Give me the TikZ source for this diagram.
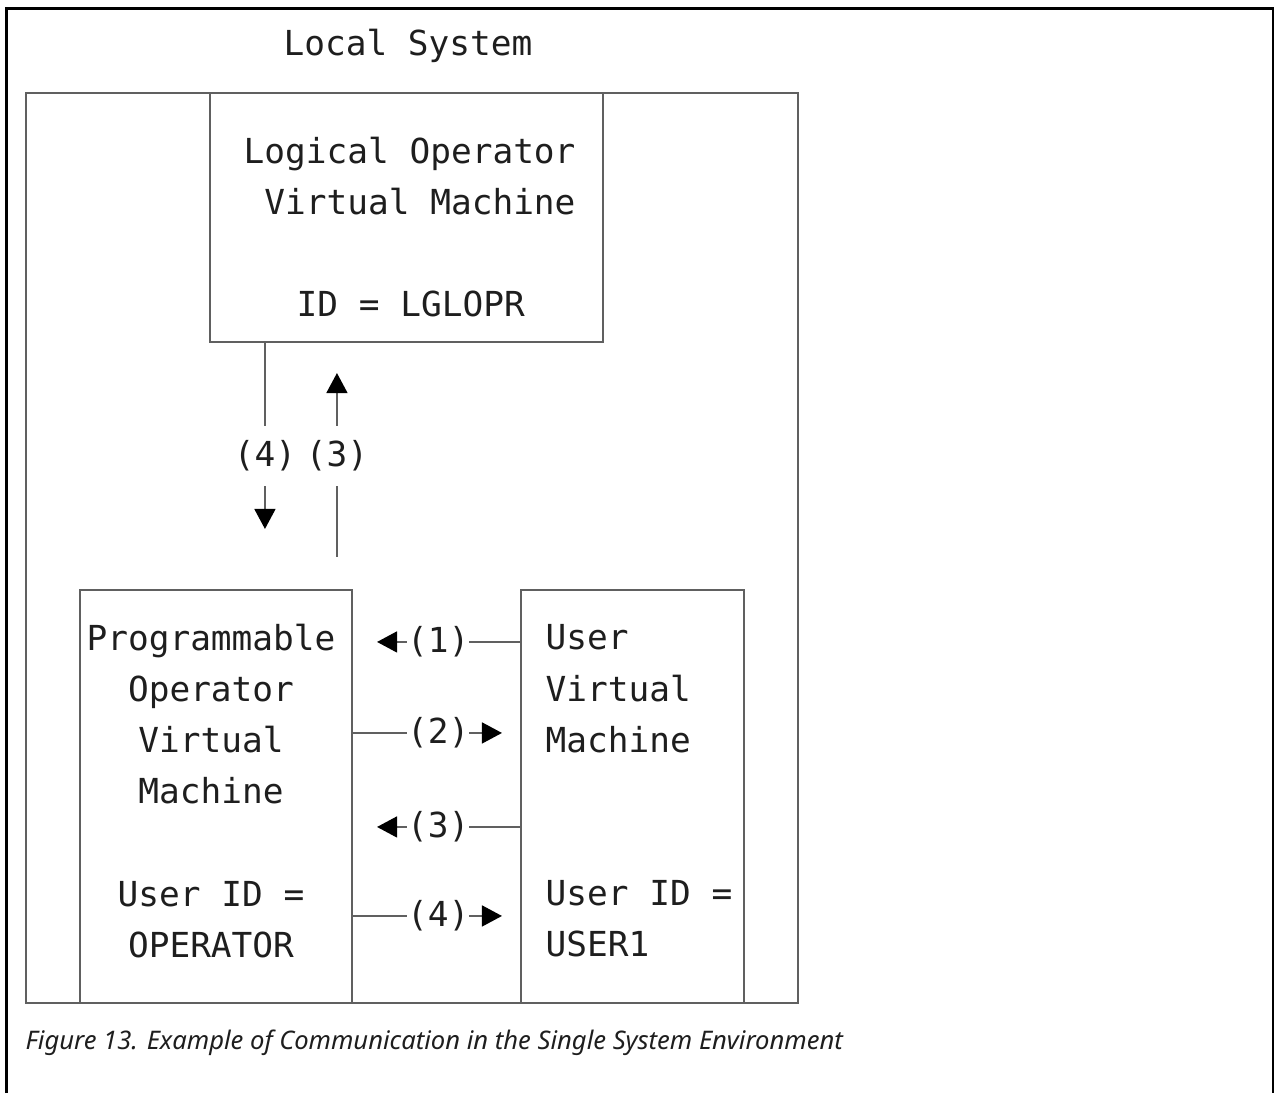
\documentclass[tikz,border=0pt]{standalone}
\usepackage{fontspec}
\setmonofont{DejaVu Sans Mono}
\newfontfamily\captionfont{Noto Sans}
\usetikzlibrary{arrows.meta}
\definecolor{boxgray}{RGB}{96,96,96}
\definecolor{textgray}{RGB}{30,30,30}
\tikzset{
  box/.style={draw=boxgray, line width=0.6pt, inner sep=0pt},
  boxtext/.style={font=\ttfamily\fontsize{9.8}{14.55}\selectfont, text=textgray, inner sep=0pt},
  msg/.style={draw=boxgray, line width=0.45pt, -{Triangle[length=0.2cm, width=0.21cm, color=black]}},
  msgtag/.style={boxtext, fill=white, inner sep=0pt, minimum height=0.6cm},
}
\begin{document}
\begin{tikzpicture}
            \useasboundingbox (0, 0) rectangle (12.74, 10.93);
            \draw[black, line width=0.85pt] (0.065, 0) -- (0.065, 10.845) -- (12.73, 10.845) -- (12.73, 0);

            % Local System
            \node[box, minimum width=7.72cm, minimum height=9.10cm] (local) at (4.12, 5.45) {};
            \node[boxtext] (local-title) at (4.08, 10.47) {Local System};

            % Logical operator
            \node[box, minimum width=3.93cm, minimum height=2.49cm] (lglopr) at (4.065, 8.755) {};
            \node[boxtext, align=left, anchor=west] (lglopr-text) at (2.43, 8.66) {Logical Operator\\\ Virtual Machine\\[14.55pt]\hspace*{0.53cm}ID = LGLOPR};

            % Programmable operator
            \node[box, minimum width=2.72cm, minimum height=4.13cm] (prog) at (2.16, 2.965) {};
            \node[boxtext, align=center] (prog-text) at (2.11, 3.02) {Programmable\\Operator\\Virtual\\Machine\\[14.55pt]User ID =\\OPERATOR};

            % User
            \node[box, minimum width=2.23cm, minimum height=4.13cm] (user) at (6.325, 2.965) {};
            \node[boxtext, align=left, anchor=west] (user-text) at (5.45, 3.02) {User\\Virtual\\Machine\\[29.1pt]User ID =\\USER1};

            % Logical operator <-> programmable operator
            \draw[msg, shorten >=0.60cm] ([xshift=0.56cm]lglopr.south west) -- node[msgtag, pos=0.46]{(4)} ([xshift=0.56cm]lglopr.south west |- prog.north);
            \draw[msg, shorten <=0.32cm, shorten >=0.30cm] ([xshift=1.28cm]lglopr.south west |- prog.north) -- node[msgtag, pos=0.54]{(3)} ([xshift=1.28cm]lglopr.south west);

            % Programmable operator <-> user
            \draw[msg, shorten >=0.24cm] ([yshift=-0.53cm]user.north west) -- node[msgtag, pos=0.49]{(1)} ([yshift=-0.53cm]prog.north east);
            \draw[msg, shorten >=0.18cm] ([yshift=-1.44cm]prog.north east) -- node[msgtag, pos=0.51]{(2)} ([yshift=-1.44cm]user.north west);
            \draw[msg, shorten >=0.24cm] ([yshift=-2.38cm]user.north west) -- node[msgtag, pos=0.49]{(3)} ([yshift=-2.38cm]prog.north east);
            \draw[msg, shorten >=0.18cm] ([yshift=-3.27cm]prog.north east) -- node[msgtag, pos=0.51]{(4)} ([yshift=-3.27cm]user.north west);

            % Caption
            \node[anchor=west, inner sep=0pt, text=textgray, font=\captionfont\itshape\fontsize{7.28}{9}\selectfont] (caption) at (0.25, 0.50) {Figure 13. Example of Communication in the Single System Environment};
\end{tikzpicture}
\end{document}
